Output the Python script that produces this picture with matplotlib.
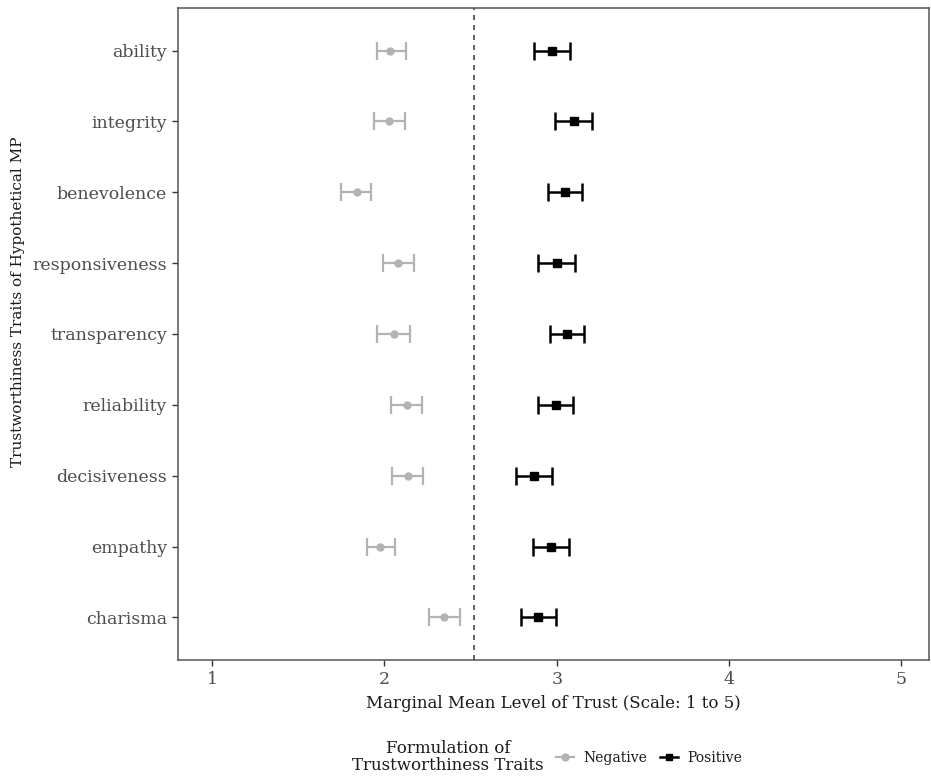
import matplotlib
matplotlib.use("Agg")
import matplotlib.pyplot as plt
from matplotlib.lines import Line2D

traits = ["ability", "integrity", "benevolence", "responsiveness", "transparency",
          "reliability", "decisiveness", "empathy", "charisma"]

neg_mean = [2.035, 2.03, 1.84, 2.08, 2.057, 2.13, 2.136, 1.976, 2.345]
neg_low = [1.955, 1.94, 1.75, 1.99, 1.96, 2.04, 2.045, 1.897, 2.258]
neg_high = [2.125, 2.12, 1.92, 2.17, 2.15, 2.22, 2.227, 2.06, 2.438]

pos_mean = [2.973, 3.10, 3.05, 3.0, 3.058, 2.994, 2.868, 2.969, 2.892]
pos_low = [2.868, 2.99, 2.948, 2.894, 2.96, 2.891, 2.766, 2.863, 2.791]
pos_high = [3.075, 3.205, 3.149, 3.106, 3.157, 3.097, 2.971, 3.07, 2.998]

ref_line = 2.52
x_ticks = [1, 2, 3, 4, 5]

plt.rcParams["font.family"] = ["DejaVu Serif"]

NEG_COLOR = "#b3b3b3"
POS_COLOR = "#000000"

fig = plt.figure(figsize=(9.31, 7.82), dpi=100)
ax = fig.add_axes([178 / 931, 1 - 660 / 782, (929 - 178) / 931, (660 - 8) / 782])

n = len(traits)
ypos = list(range(n - 1, -1, -1))

ax.axvline(ref_line, color="#444444", linestyle=(0, (3, 3)), linewidth=1.2, zorder=1)

neg_err = [[m - lo for m, lo in zip(neg_mean, neg_low)], [hi - m for m, hi in zip(neg_mean, neg_high)]]
pos_err = [[m - lo for m, lo in zip(pos_mean, pos_low)], [hi - m for m, hi in zip(pos_mean, pos_high)]]

ax.errorbar(neg_mean, ypos, xerr=neg_err, fmt="o", color=NEG_COLOR, ecolor=NEG_COLOR,
            markersize=5, elinewidth=1.6, capsize=6.5, capthick=1.6, zorder=3)
ax.errorbar(pos_mean, ypos, xerr=pos_err, fmt="s", color=POS_COLOR, ecolor=POS_COLOR,
            markersize=5.5, elinewidth=1.8, capsize=6.5, capthick=1.8, zorder=3)

ax.set_yticks(ypos)
ax.set_yticklabels(traits)
ax.set_ylim(-0.6, n - 1 + 0.6)
ax.set_xticks(x_ticks)
ax.set_xlim(0.803, 5.16)

ax.tick_params(axis="both", colors="#333333", labelcolor="#4d4d4d", labelsize=12.5,
               length=4, width=1.0, pad=4)
for side in ["left", "bottom", "top", "right"]:
    ax.spines[side].set_color("#555555")
    ax.spines[side].set_linewidth(1.1)

ax.set_xlabel("Marginal Mean Level of Trust (Scale: 1 to 5)", fontsize=12, color="#1a1a1a", labelpad=5)
fig.text(18 / 931, 1 - 302 / 782, "Trustworthiness Traits of Hypothetical MP", rotation=90,
         ha="center", va="center", fontsize=11, color="#1a1a1a")

# legend: title on the left, entries to the right (ggplot style)
fig.text(448 / 931, 1 - 757 / 782, "Formulation of\nTrustworthiness Traits", ha="center", va="center",
         fontsize=12, color="#1a1a1a", multialignment="center", linespacing=1.0)
handles = [
    Line2D([0], [0], color=NEG_COLOR, marker="o", markersize=5, linewidth=1.6),
    Line2D([0], [0], color=POS_COLOR, marker="s", markersize=5, linewidth=1.8),
]
leg = fig.legend(handles, ["Negative", "Positive"], loc="center left",
                 bbox_to_anchor=(543 / 931, 1 - 758 / 782),
                 ncol=2, frameon=False, fontsize=10, handlelength=1.3, columnspacing=0.9,
                 handletextpad=0.7)
for t in leg.get_texts():
    t.set_color("#1a1a1a")

fig.savefig("out.png", dpi=100)
